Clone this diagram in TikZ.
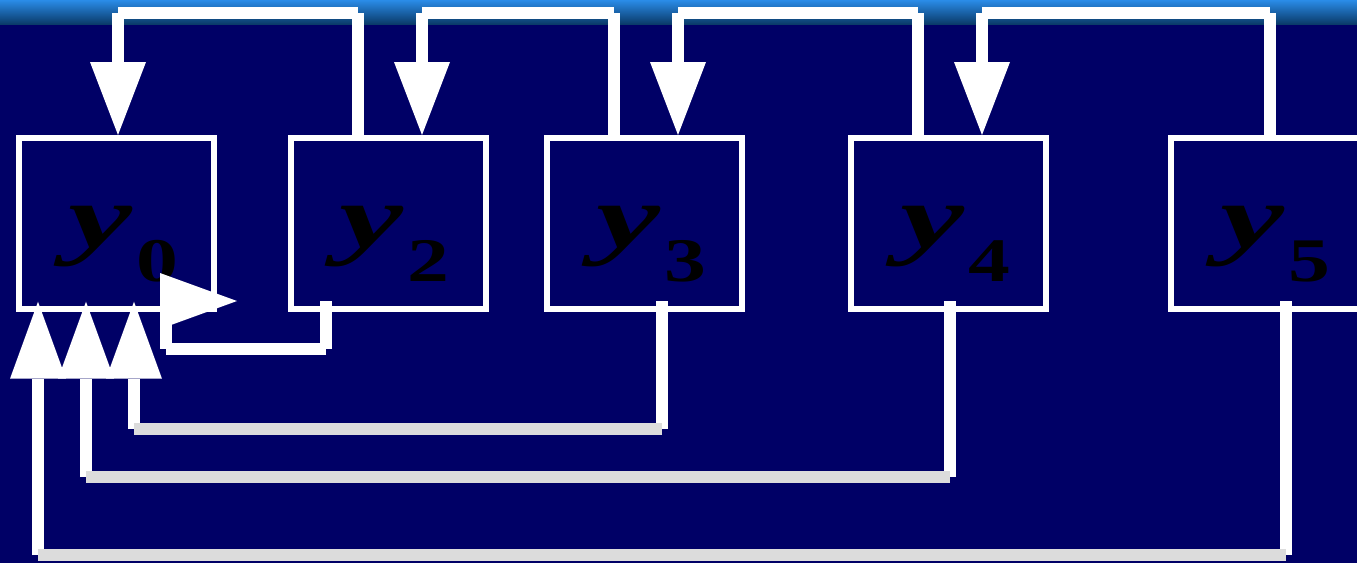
\documentclass[tikz,border=0pt]{standalone}
\usepackage{fontspec}
\setmainfont{Liberation Serif}
\usetikzlibrary{arrows.meta}
\definecolor{navy}{RGB}{0,0,102}
\definecolor{bandtop}{RGB}{42,140,232}
\definecolor{bandbot}{RGB}{10,58,105}
\definecolor{wiregray}{RGB}{220,220,220}
\tikzset{
  blk/.style={draw=white, line width=6pt, minimum width=195pt, minimum height=171pt, inner sep=0pt},
  wire/.style={draw=white, line width=12pt},
  gwire/.style={draw=wiregray, line width=12pt},
  tophead/.style={-{Triangle[length=73pt,width=56pt,line width=0pt]}},
  bothead/.style={-{Triangle[length=77pt,width=56pt,line width=0pt]}},
  yvar/.style={anchor=base west, inner sep=0pt, text=black, font=\fontsize{90}{90}\selectfont\bfseries\itshape},
  ysub/.style={anchor=base west, inner sep=0pt, text=black, font=\fontsize{62}{62}\selectfont\bfseries},
}
\begin{document}
\begin{tikzpicture}[x=1pt,y=-1pt]
\useasboundingbox (0,0) rectangle (1357,563);
\clip (0,0) rectangle (1357,563);
\fill[navy] (0,0) rectangle (1357,563);
\shade[top color=bandtop, bottom color=bandbot] (0,0) rectangle (1357,24);

% boxes
\node[blk] (y0) at (116.5,223.5) {};
\node[blk] (y2) at (388,223.5) {};
\node[blk] (y3) at (644.5,223.5) {};
\node[blk] (y4) at (948.5,223.5) {};
\node[blk] (y5) at (1268.5,223.5) {};

% labels
\foreach \b/\s in {y0/0,y2/2,y3/3,y4/4,y5/5}{
  \node[yvar] (v\b) at ([xshift=52pt]\b.west |- 0,247) {\scalebox{1.6}[1]{y}};
  \node[ysub] (s\b) at ([xshift=120pt]\b.west |- 0,281) {\scalebox{1.35}[1]{\s}};
}

% top connectors
\foreach \src/\dst/\sx/\tx in {y2/y0/358/118, y3/y2/614/422, y4/y3/918/678, y5/y4/1270/982}{
  \coordinate (u\src) at (\sx,13);
  \coordinate (d\dst) at (\tx,13);
  \draw[wire] (\src.north -| u\src) -- (u\src);
  \draw[wire] (u\src) -- (d\dst);
  \draw[wire,tophead] (d\dst) -- (\dst.north -| d\dst);
}

% bottom connectors to y0 (verticals)
\coordinate (b3) at (662,429);
\coordinate (b4) at (950,477);
\coordinate (b5) at (1286,555);
\coordinate (c3) at (134,429);
\coordinate (c4) at (86,477);
\coordinate (c5) at (38,555);
\draw[wire] ([yshift=11pt]y3.south -| b3) -- (b3);
\draw[wire] ([yshift=11pt]y4.south -| b4) -- (b4);
\draw[wire] ([yshift=11pt]y5.south -| b5) -- (b5);
\draw[wire,bothead] (c3) -- ([yshift=10.3pt]y0.south -| c3);
\draw[wire,bothead] (c4) -- ([yshift=10.3pt]y0.south -| c4);
\draw[wire,bothead] (c5) -- ([yshift=10.3pt]y0.south -| c5);
\draw[gwire] (b3) -- (c3);
\draw[gwire] (b4) -- (c4);
\draw[gwire] (b5) -- (c5);

% y2 -> y0 short loop
\coordinate (e1) at (326,348.5);
\coordinate (e2) at (166,348.5);
\coordinate (e3) at (166,301);
\coordinate (e4) at (237,301);
\draw[wire] ([yshift=11pt]y2.south -| e1) -- (e1);
\draw[wire] (e1) -- (e2);
\draw[wire] (e2) -- (e3);
\draw[wire,bothead] (e3) -- (e4);
\end{tikzpicture}
\end{document}
